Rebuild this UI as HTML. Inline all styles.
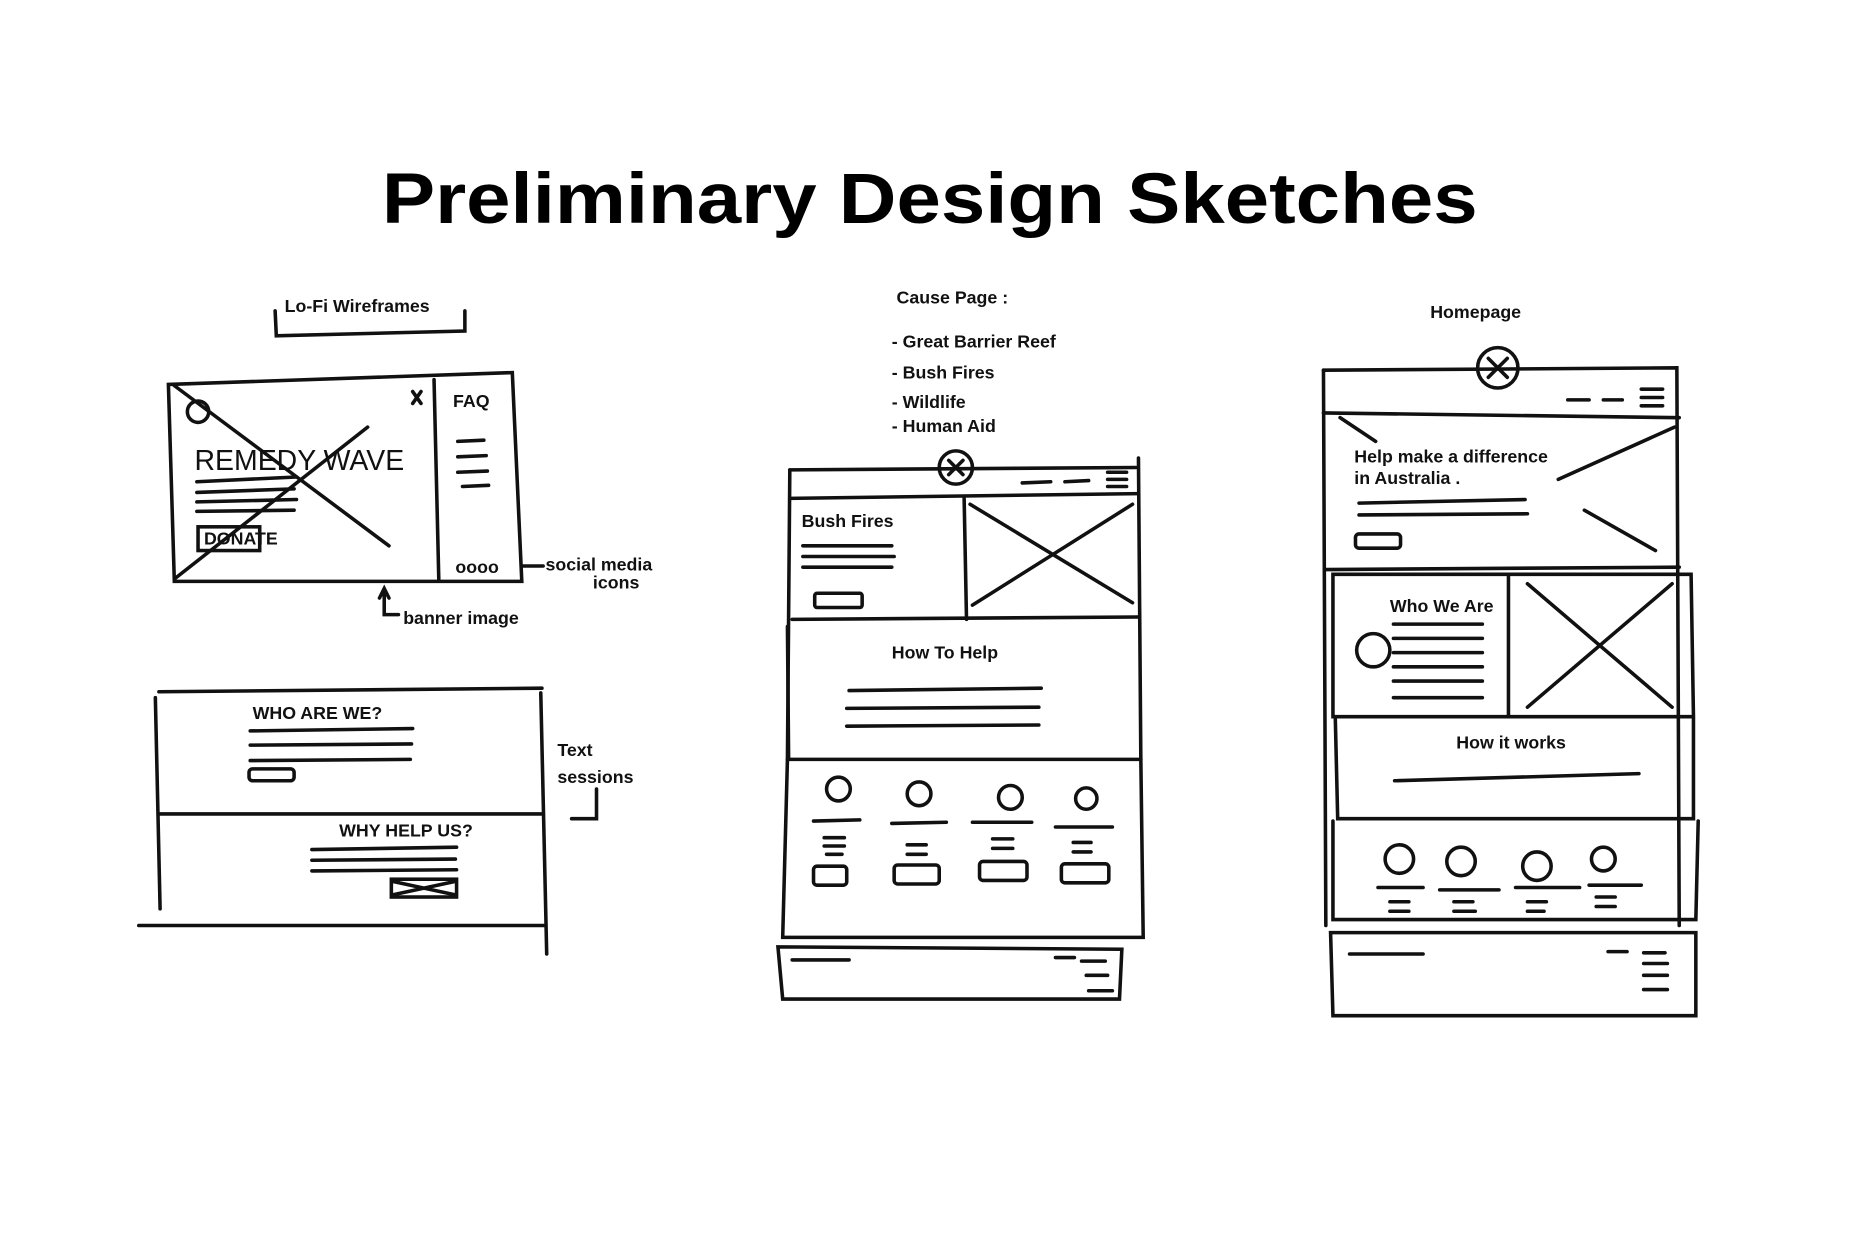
<!DOCTYPE html>
<html><head><meta charset="utf-8"><style>
html,body{margin:0;padding:0;background:#fff;}
svg{display:block}
text{font-family:"Liberation Sans",sans-serif;fill:#111}
.h{font-family:"Liberation Sans",sans-serif;font-weight:bold;font-size:15px;}
</style></head><body>
<svg width="1850" height="1234" viewBox="0 0 1560 1040" preserveAspectRatio="none" xmlns="http://www.w3.org/2000/svg">
<rect width="1560" height="1040" fill="#fff"/>
<text x="784" y="188" text-anchor="middle" font-size="60" font-weight="bold" textLength="924" lengthAdjust="spacingAndGlyphs" style="fill:#000">Preliminary Design Sketches</text>

<g stroke="#111" stroke-width="3" fill="none" stroke-linecap="round">
<!-- left top wireframe -->
<path d="M232 262 L233 283 L392 279 L392 262"/>
<path d="M142 324 L432 314 L440 490 L147 490 Z"/>
<path d="M366 320 L370 488"/>
<path d="M147 325 L328 460"/><path d="M147 488 L310 360"/>
<circle cx="167" cy="347" r="9"/>
<path d="M348 330 L355 340 M355 330 L348 340"/>
<path d="M386 372 L408 371 M386 385 L410 384 M386 398 L411 397 M390 410 L412 409"/>
<path d="M166 406 L250 402 M166 415 L248 412 M166 423 L250 421 M166 431 L248 430"/>
<rect x="167" y="444" width="52" height="20"/>
<path d="M440 477 L458 477"/>
<path d="M324 498 L324 518 L336 518 M320 504 L324 496 L328 504"/>
<!-- left bottom -->
<path d="M134 583 L457 580"/><path d="M131 588 L135 766"/><path d="M456 584 L461 804"/>
<path d="M135 686 L458 686"/><path d="M117 780 L460 780"/>
<path d="M211 616 L348 614 M211 628 L347 627 M211 641 L346 640"/>
<rect x="210" y="648" width="38" height="10" rx="3"/>
<path d="M263 716 L385 714 M263 725 L384 724 M263 734 L385 733"/>
<rect x="330" y="741" width="55" height="15"/><path d="M332 743 L383 754 M383 743 L332 754"/>
<path d="M503 665 L503 690 L482 690"/>
<!-- middle wireframe -->
<path d="M666 396 L958 394"/><path d="M666 396 L664 640"/><path d="M960 386 L962 640"/>
<path d="M666 420 L960 416"/><path d="M668 522 L960 520"/><path d="M664 528 L665 640 L962 640"/>
<path d="M813 420 L815 522"/><path d="M818 425 L955 508 M820 510 L955 425"/>
<circle cx="806" cy="394" r="14"/><path d="M800 388 L812 400 M812 388 L800 400"/>
<path d="M862 407 L886 406 M898 406 L918 405 M934 398 L950 398 M934 404 L950 404 M934 410 L950 410"/>
<path d="M677 460 L752 460 M677 469 L754 469 M677 478 L752 478"/>
<rect x="687" y="500" width="40" height="12" rx="2"/>
<path d="M716 582 L878 580 M714 597 L876 596 M714 612 L876 611"/>
<path d="M664 640 L660 790 L964 790 L962 640"/>
<g>
<circle cx="707" cy="665" r="10"/><circle cx="775" cy="669" r="10"/><circle cx="852" cy="672" r="10"/><circle cx="916" cy="673" r="9"/>
<path d="M686 692 L725 691 M752 694 L798 693 M820 693 L870 693 M890 697 L938 697"/>
<path d="M695 706 L712 706 M695 713 L712 713 M697 720 L710 720 M765 712 L781 712 M765 720 L781 720 M837 707 L854 707 M837 715 L854 715 M905 710 L920 710 M905 718 L920 718"/>
<rect x="686" y="730" width="28" height="16" rx="3"/><rect x="754" y="729" width="38" height="16" rx="3"/><rect x="826" y="726" width="40" height="16" rx="3"/><rect x="895" y="728" width="40" height="16" rx="3"/>
</g>
<path d="M656 798 L946 800 L944 842 L660 842 Z"/>
<path d="M668 809 L716 809 M890 807 L906 807 M912 810 L932 810 M916 822 L934 822 M918 835 L938 835"/>
<!-- right wireframe -->
<path d="M1116 312 L1414 310 L1416 780"/><path d="M1116 312 L1118 780"/>
<path d="M1116 348 L1416 352"/>
<circle cx="1263" cy="310" r="17"/><path d="M1255 302 L1271 318 M1271 302 L1255 318"/>
<path d="M1322 337 L1340 337 M1352 337 L1368 337 M1384 328 L1402 328 M1384 335 L1402 335 M1384 342 L1402 342"/>
<path d="M1118 480 L1416 478"/>
<path d="M1130 352 L1160 372 M1314 404 L1412 360 M1336 430 L1396 464"/>
<path d="M1146 424 L1286 421 M1146 434 L1288 433"/>
<rect x="1143" y="450" width="38" height="12" rx="3"/>
<path d="M1124 484 L1426 484 L1428 604 L1124 604 Z"/>
<path d="M1272 486 L1272 604 M1288 492 L1410 596 M1288 596 L1410 492"/>
<circle cx="1158" cy="548" r="14"/>
<path d="M1175 526 L1250 526 M1175 538 L1250 538 M1175 550 L1250 550 M1175 562 L1250 562 M1175 574 L1250 574 M1175 588 L1250 588"/>
<path d="M1126 606 L1128 690 L1428 690 L1428 606"/>
<path d="M1176 658 L1382 652"/>
<path d="M1124 692 L1124 775 L1430 775 L1432 692"/>
<circle cx="1180" cy="724" r="12"/><circle cx="1232" cy="726" r="12"/><circle cx="1296" cy="730" r="12"/><circle cx="1352" cy="724" r="10"/>
<path d="M1162 748 L1200 748 M1214 750 L1264 750 M1278 748 L1332 748 M1340 746 L1384 746"/>
<path d="M1172 760 L1188 760 M1172 768 L1188 768 M1226 760 L1242 760 M1226 768 L1244 768 M1288 760 L1304 760 M1288 768 L1302 768 M1346 756 L1362 756 M1346 764 L1362 764"/>
<path d="M1122 786 L1430 786 L1430 856 L1124 856 Z"/>
<path d="M1138 804 L1200 804 M1356 802 L1372 802 M1386 803 L1404 803 M1386 812 L1406 812 M1386 822 L1406 822 M1386 834 L1406 834"/>
</g>

<!-- handwritten labels -->
<text class="h" x="240" y="263" font-size="14">Lo-Fi Wireframes</text>
<text x="164" y="396" font-size="24" style="font-family:'Liberation Sans',sans-serif">REMEDY WAVE</text>
<text class="h" x="172" y="459" font-size="9">DONATE</text>
<text class="h" x="382" y="343" font-size="12">FAQ</text>
<text class="h" x="384" y="483" font-size="12">oooo</text>
<text class="h" x="460" y="481" font-size="12">social media</text>
<text class="h" x="500" y="496" font-size="12">icons</text>
<text class="h" x="340" y="526" font-size="15">banner image</text>
<text class="h" x="213" y="606" font-size="12">WHO ARE WE?</text>
<text class="h" x="286" y="705" font-size="12">WHY HELP US?</text>
<text class="h" x="470" y="637" font-size="13">Text</text>
<text class="h" x="470" y="660" font-size="12">sessions</text>
<text class="h" x="756" y="256" font-size="14">Cause Page :</text>
<text class="h" x="752" y="293" font-size="14">- Great Barrier Reef</text>
<text class="h" x="752" y="319" font-size="14">- Bush Fires</text>
<text class="h" x="752" y="344" font-size="14">- Wildlife</text>
<text class="h" x="752" y="364" font-size="14">- Human Aid</text>
<text class="h" x="676" y="444" font-size="18" font-weight="normal">Bush Fires</text>
<text class="h" x="752" y="555" font-size="15">How To Help</text>
<text class="h" x="1206" y="268" font-size="17">Homepage</text>
<text class="h" x="1142" y="390" font-size="12">Help make a difference</text>
<text class="h" x="1142" y="408" font-size="12">in Australia .</text>
<text class="h" x="1172" y="516" font-size="12">Who We Are</text>
<text class="h" x="1228" y="631" font-size="13">How it works</text>
</svg>
</body></html>
